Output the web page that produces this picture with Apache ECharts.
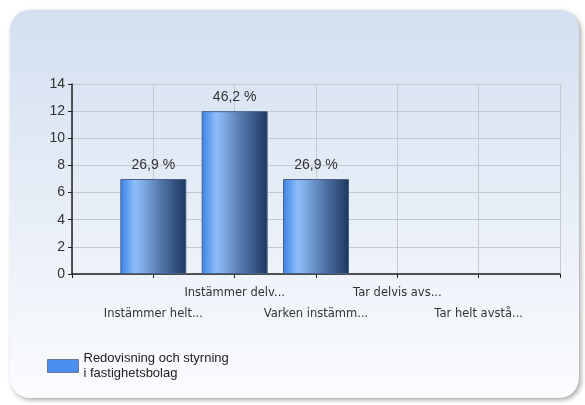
<!DOCTYPE html>
<html>
<head>
<meta charset="utf-8">
<script src="https://cdn.jsdelivr.net/npm/echarts@6/dist/echarts.min.js"></script>
<style>
  html, body { margin: 0; padding: 0; background: #ffffff; }
  #main { width: 585px; height: 405px; }
</style>
</head>
<body>
<div id="main"></div>
<script>
// data
var categories = ['Instämmer helt...', 'Instämmer delv...', 'Varken instämm...', 'Tar delvis avs...', 'Tar helt avstå...'];
var counts = [7, 12, 7, 0, 0];
var seriesName = 'Redovisning och styrning i fastighetsbolag';
var yTicks = { min: 0, max: 14, interval: 2 };

var total = counts.reduce(function (a, b) { return a + b; }, 0);
// one empty slot on each side, ticks sit on the categories
var axisData = [''].concat(categories, ['']);
var barData = [null].concat(counts.map(function (v) {
  // no outline for empty bars
  return v ? v : { value: v, itemStyle: { borderWidth: 0 } };
}), [null]);

var font = 'Liberation Sans, Arial, sans-serif';
var chart = echarts.init(document.getElementById('main'));

var option = {
  animation: false,
  graphic: [{
    type: 'rect',
    z: -10,
    silent: true,
    shape: { x: 10, y: 10, width: 569, height: 388, r: 20 },
    style: {
      fill: new echarts.graphic.LinearGradient(0, 0, 0, 1, [
        { offset: 0, color: '#d3dff0' },
        { offset: 1, color: '#fbfcfe' }
      ]),
      shadowBlur: 5,
      shadowOffsetX: 2,
      shadowOffsetY: 2,
      shadowColor: 'rgba(0,0,0,0.35)'
    }
  }],
  grid: { left: 72, right: 25, top: 84, bottom: 131, containLabel: false },
  legend: {
    left: 47,
    top: 351,
    padding: 0,
    orient: 'vertical',
    icon: 'rect',
    itemWidth: 31,
    itemHeight: 13,
    textStyle: { fontFamily: font, fontSize: 13, color: '#222', lineHeight: 15 },
    formatter: function () { return 'Redovisning och styrning\ni fastighetsbolag'; },
    data: [{
      name: seriesName,
      itemStyle: { color: '#4a8ef0', borderColor: '#6a7a90', borderWidth: 1 }
    }]
  },
  xAxis: {
    type: 'category',
    data: axisData,
    boundaryGap: false,
    axisLine: { lineStyle: { color: '#222', width: 1.5 } },
    axisTick: { show: true, length: 4, lineStyle: { color: '#222' } },
    splitLine: { show: true, lineStyle: { color: '#c4c8cf' } },
    axisLabel: {
      interval: 0,
      hideOverlap: false,
      margin: 9,
      fontFamily: 'DejaVu Sans, sans-serif',
      fontSize: 11.5,
      lineHeight: 21,
      color: '#333',
      formatter: function (v, i) {
        if (!v) return '';
        return i % 2 === 0 ? v : '\n' + v;
      }
    }
  },
  yAxis: {
    type: 'value',
    min: yTicks.min,
    max: yTicks.max,
    interval: yTicks.interval,
    axisLine: { show: true, lineStyle: { color: '#222', width: 1.5 } },
    axisTick: { show: true, length: 4, lineStyle: { color: '#222' } },
    splitLine: { show: true, lineStyle: { color: '#c4c8cf' } },
    axisLabel: { margin: 7, fontFamily: font, fontSize: 14, color: '#333' }
  },
  series: [{
    name: seriesName,
    type: 'bar',
    data: barData,
    barWidth: 66,
    itemStyle: {
      color: new echarts.graphic.LinearGradient(0, 0, 1, 0, [
        { offset: 0, color: '#3b82e6' },
        { offset: 0.22, color: '#8dbdf8' },
        { offset: 0.3, color: '#84b2ec' },
        { offset: 0.6, color: '#5579ad' },
        { offset: 1, color: '#1c365e' }
      ]),
      borderColor: '#4a6286',
      borderWidth: 1
    },
    label: {
      show: true,
      position: 'top',
      distance: 7,
      fontFamily: font,
      fontSize: 14,
      color: '#333',
      formatter: function (p) {
        if (!p.value) return '';
        return (p.value / total * 100).toFixed(1).replace('.', ',') + ' %';
      }
    }
  }]
};

chart.setOption(option);
</script>
</body>
</html>
